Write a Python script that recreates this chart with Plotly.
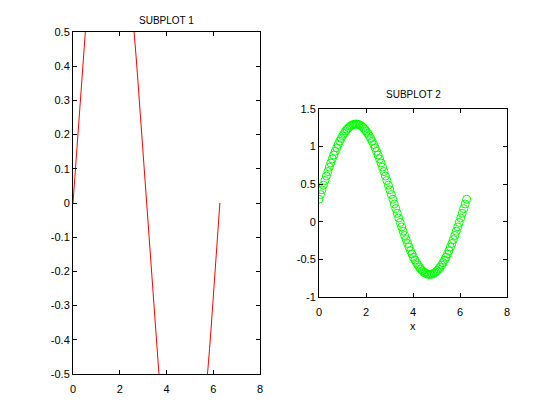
import plotly.graph_objects as go

x_vals = [0.000, 0.063, 0.126, 0.188, 0.251, 0.314, 0.377, 0.440, 0.503, 0.565,
          0.628, 0.691, 0.754, 0.817, 0.880, 0.942, 1.005, 1.068, 1.131, 1.194,
          1.257, 1.319, 1.382, 1.445, 1.508, 1.571, 1.634, 1.696, 1.759, 1.822,
          1.885, 1.948, 2.011, 2.073, 2.136, 2.199, 2.262, 2.325, 2.388, 2.450,
          2.513, 2.576, 2.639, 2.702, 2.765, 2.827, 2.890, 2.953, 3.016, 3.079,
          3.142, 3.204, 3.267, 3.330, 3.393, 3.456, 3.519, 3.581, 3.644, 3.707,
          3.770, 3.833, 3.896, 3.958, 4.021, 4.084, 4.147, 4.210, 4.273, 4.335,
          4.398, 4.461, 4.524, 4.587, 4.650, 4.712, 4.775, 4.838, 4.901, 4.964,
          5.027, 5.089, 5.152, 5.215, 5.278, 5.341, 5.404, 5.466, 5.529, 5.592,
          5.655, 5.718, 5.781, 5.843, 5.906, 5.969, 6.032, 6.095, 6.158, 6.220,
          6.283]

y_line = [0.000, 0.063, 0.125, 0.187, 0.249, 0.309, 0.368, 0.426, 0.482, 0.536,
          0.588, 0.637, 0.685, 0.729, 0.771, 0.809, 0.844, 0.876, 0.905, 0.930,
          0.951, 0.969, 0.982, 0.992, 0.998, 1.000, 0.998, 0.992, 0.982, 0.969,
          0.951, 0.930, 0.905, 0.876, 0.844, 0.809, 0.771, 0.729, 0.685, 0.637,
          0.588, 0.536, 0.482, 0.426, 0.368, 0.309, 0.249, 0.187, 0.125, 0.063,
          0.000, -0.063, -0.125, -0.187, -0.249, -0.309, -0.368, -0.426, -0.482, -0.536,
          -0.588, -0.637, -0.685, -0.729, -0.771, -0.809, -0.844, -0.876, -0.905, -0.930,
          -0.951, -0.969, -0.982, -0.992, -0.998, -1.000, -0.998, -0.992, -0.982, -0.969,
          -0.951, -0.930, -0.905, -0.876, -0.844, -0.809, -0.771, -0.729, -0.685, -0.637,
          -0.588, -0.536, -0.482, -0.426, -0.368, -0.309, -0.249, -0.187, -0.125, -0.063,
          0.000]

y_points = [0.300, 0.363, 0.425, 0.487, 0.549, 0.609, 0.668, 0.726, 0.782, 0.836,
            0.888, 0.937, 0.985, 1.029, 1.071, 1.109, 1.144, 1.176, 1.205, 1.230,
            1.251, 1.269, 1.282, 1.292, 1.298, 1.300, 1.298, 1.292, 1.282, 1.269,
            1.251, 1.230, 1.205, 1.176, 1.144, 1.109, 1.071, 1.029, 0.985, 0.937,
            0.888, 0.836, 0.782, 0.726, 0.668, 0.609, 0.549, 0.487, 0.425, 0.363,
            0.300, 0.237, 0.175, 0.113, 0.051, -0.009, -0.068, -0.126, -0.182, -0.236,
            -0.288, -0.337, -0.385, -0.429, -0.471, -0.509, -0.544, -0.576, -0.605, -0.630,
            -0.651, -0.669, -0.682, -0.692, -0.698, -0.700, -0.698, -0.692, -0.682, -0.669,
            -0.651, -0.630, -0.605, -0.576, -0.544, -0.509, -0.471, -0.429, -0.385, -0.337,
            -0.288, -0.236, -0.182, -0.126, -0.068, -0.009, 0.051, 0.113, 0.175, 0.237,
            0.300]

titles = ["SUBPLOT 1", "SUBPLOT 2"]
x_label = "x"
left_yticks = [-0.5, -0.4, -0.3, -0.2, -0.1, 0, 0.1, 0.2, 0.3, 0.4, 0.5]
left_yticktext = ["-0.5", "-0.4", "-0.3", "-0.2", "-0.1", "0", "0.1", "0.2", "0.3", "0.4", "0.5"]
right_yticks = [-1, -0.5, 0, 0.5, 1, 1.5]
right_yticktext = ["-1", "-0.5", "0", "0.5", "1", "1.5"]
xticks = [0, 2, 4, 6, 8]

W, H = 560, 420
FONT = "Liberation Sans, Arial, sans-serif"

fig = go.Figure()
fig.add_trace(go.Scatter(x=x_vals, y=y_line, mode="lines",
                         line=dict(color="#ff0000", width=1),
                         xaxis="x", yaxis="y", showlegend=False))
fig.add_trace(go.Scatter(x=x_vals, y=y_points, mode="markers",
                         marker=dict(symbol="circle-open", size=8, color="#00ff00",
                                     line=dict(width=1, color="#00ff00")),
                         xaxis="x2", yaxis="y2", showlegend=False))

# pixel boxes
L1 = (73, 260, 32, 374)   # left, right, top, bottom
L2 = (319, 507, 109, 297)

def dom(box):
    l, r, t, b = box
    return [l / W, r / W], [(H - b) / H, (H - t) / H]

xd1, yd1 = dom(L1)
xd2, yd2 = dom(L2)

axis_common = dict(showgrid=False, zeroline=False, showline=True, linecolor="black",
                   linewidth=1, mirror="ticks", ticks="inside", ticklen=4,
                   tickcolor="black", tickwidth=1, automargin=False,
                   tickfont=dict(family=FONT, size=11, color="black"))

fig.update_layout(
    template="none",
    width=W, height=H,
    margin=dict(l=0, r=0, t=0, b=0, pad=0),
    paper_bgcolor="white", plot_bgcolor="white",
    xaxis=dict(domain=xd1, range=[0, 8], tickvals=xticks, anchor="y",
               ticklabelstandoff=5, **axis_common),
    yaxis=dict(domain=yd1, range=[-0.5, 0.5], tickvals=left_yticks,
               ticktext=left_yticktext, anchor="x", **axis_common),
    xaxis2=dict(domain=xd2, range=[0, 8], tickvals=xticks, anchor="y2",
                ticklabelstandoff=5, **axis_common),
    yaxis2=dict(domain=yd2, range=[-1, 1.5], tickvals=right_yticks,
                ticktext=right_yticktext, anchor="x2", **axis_common),
)

ann_font = dict(family=FONT, size=10, color="black")
fig.add_annotation(text=titles[0], x=(xd1[0] + xd1[1]) / 2, y=(H - 20) / H,
                   xref="paper", yref="paper", showarrow=False, font=ann_font,
                   xanchor="center", yanchor="middle")
fig.add_annotation(text=titles[1], x=(xd2[0] + xd2[1]) / 2, y=(H - 95) / H,
                   xref="paper", yref="paper", showarrow=False, font=ann_font,
                   xanchor="center", yanchor="middle")
fig.add_annotation(text=x_label, x=(xd2[0] + xd2[1]) / 2, y=(H - 326) / H,
                   xref="paper", yref="paper", showarrow=False,
                   font=dict(family=FONT, size=11, color="black"),
                   xanchor="center", yanchor="middle")

fig.write_html("out.html", config={"displayModeBar": False},
               post_script="document.body.style.margin='0px';document.body.style.overflow='hidden';")
